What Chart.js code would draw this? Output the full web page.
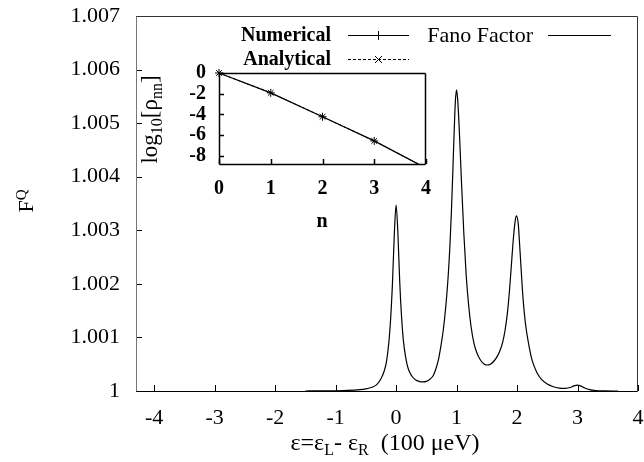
<!DOCTYPE html>
<html>
<head>
<meta charset="utf-8">
<script src="https://cdn.jsdelivr.net/npm/chart.js@4.4.1/dist/chart.umd.min.js"></script>
<style>
  html, body { margin: 0; padding: 0; background: #fff; }
  #wrap { position: relative; width: 644px; height: 462px; }
  #main { position: absolute; left: 0; top: 0; }
  #inset { position: absolute; left: 120px; top: 55px; }
</style>
</head>
<body>
<div id="wrap">
  <canvas id="main" width="644" height="462"></canvas>
  <canvas id="inset" width="320" height="185"></canvas>
</div>
<script>
// --- dati ---
// curva principale: epsilon (100 ueV) e fattore di Fano F^Q
const epsValues = [
  -1.5, -1.2, -1.0, -0.8, -0.6, -0.5, -0.4, -0.32, -0.25, -0.2, -0.16, -0.12, -0.09, -0.06, -0.03,
  0.0, 0.03, 0.06, 0.09, 0.12, 0.16, 0.2, 0.26, 0.32, 0.38, 0.44, 0.5, 0.56, 0.62, 0.66, 0.7,
  0.74, 0.77, 0.8, 0.83, 0.86, 0.89, 0.915, 0.94, 0.96, 0.98, 1.0, 1.02, 1.05, 1.08, 1.12, 1.16, 1.2,
  1.24, 1.29, 1.34, 1.4, 1.46, 1.51, 1.56, 1.62, 1.68, 1.72, 1.76, 1.8, 1.84, 1.87, 1.9, 1.94, 1.97, 1.99,
  2.02, 2.05, 2.08, 2.1, 2.14, 2.19, 2.25, 2.33, 2.4, 2.5, 2.6, 2.7, 2.8, 2.88, 2.94, 3.0,
  3.05, 3.12, 3.2, 3.3, 3.45, 3.67
];
const fanoValues = [
  1.000000, 1.000002, 1.000004, 1.000010, 1.000025, 1.000040, 1.000070, 1.000120, 1.000230, 1.000360, 1.000540, 1.000900, 1.001350, 1.002000, 1.002900,
  1.003470, 1.002950, 1.002050, 1.001400, 1.000950, 1.000620, 1.000420, 1.000280, 1.000210, 1.000180, 1.000170, 1.000180, 1.000220, 1.000300, 1.000420, 1.000580,
  1.000830, 1.001050, 1.001330, 1.001680, 1.002120, 1.002700, 1.003350, 1.004150, 1.004820, 1.005400, 1.005620, 1.005420, 1.004750, 1.003940, 1.002950, 1.002150, 1.001600,
  1.001200, 1.000880, 1.000700, 1.000570, 1.000500, 1.000485, 1.000500, 1.000560, 1.000660, 1.000760, 1.000900, 1.001120, 1.001450, 1.001800, 1.002250, 1.002850, 1.003180, 1.003270,
  1.003120, 1.002600, 1.002050, 1.001720, 1.001250, 1.000890, 1.000570, 1.000340, 1.000220, 1.000130, 1.000080, 1.000055, 1.000050, 1.000065, 1.000095, 1.000110,
  1.000095, 1.000055, 1.000025, 1.000008, 1.000002, 1.000000
];
const xTicks = [-4, -3, -2, -1, 0, 1, 2, 3, 4];
const yTicks = [1, 1.001, 1.002, 1.003, 1.004, 1.005, 1.006, 1.007];

// inserto: log10[rho_nn] contro n
const nValues = [0, 1, 2, 3, 4];
const numericalValues = [0, -1.92, -4.23, -6.57, -9.2];
const analyticalValues = [0, -1.92, -4.23, -6.57, -9.2];
const nTicks = [0, 1, 2, 3, 4];
const logTicks = [0, -2, -4, -6, -8];

const SERIF = '"Liberation Serif", "Times New Roman", serif';

// niente margini extra per le etichette: l'area del grafico la decido io
const noPad = s => { s.paddingLeft = 0; s.paddingRight = 0; s.paddingTop = 0; s.paddingBottom = 0; };

// cornice e tacche interne (stile gnuplot)
const framePlugin = {
  id: 'frame',
  afterDraw(chart, args, o) {
    const { ctx, chartArea: a, scales } = chart;
    ctx.save();
    ctx.lineWidth = o.width;
    ctx.strokeStyle = o.color;
    ctx.beginPath();
    scales.x.ticks.forEach(t => {
      const px = Math.round(scales.x.getPixelForValue(t.value)) + 0.5;
      ctx.moveTo(px, a.bottom);
      ctx.lineTo(px, a.bottom - o.tick);
    });
    scales.y.ticks.forEach(t => {
      const py = Math.round(scales.y.getPixelForValue(t.value)) + 0.5;
      ctx.moveTo(a.left, py);
      ctx.lineTo(a.left + o.tick, py);
    });
    ctx.stroke();
    const L = Math.round(a.left) + 0.5, R = Math.round(a.right) - 0.5;
    const T = Math.round(a.top) + 0.5, B = Math.round(a.bottom) + 0.5;
    const side = (c, x1, y1, x2, y2) => {
      ctx.strokeStyle = c;
      ctx.beginPath(); ctx.moveTo(x1, y1); ctx.lineTo(x2, y2); ctx.stroke();
    };
    side(o.topColor, L, T, R, T);
    side(o.rightColor, R, T, R, B);
    side(o.leftColor, L, T, L, B);
    side(o.bottomColor, L, B, R, B);
    ctx.restore();
  }
};

// scrive segmenti di testo con pedici / apici
function drawRich(ctx, parts, x, y, align) {
  let w = 0;
  parts.forEach(p => { ctx.font = p.font; w += ctx.measureText(p.t).width; });
  let cx = align === 'center' ? x - w / 2 : x;
  ctx.textAlign = 'left';
  ctx.textBaseline = 'alphabetic';
  parts.forEach(p => {
    ctx.font = p.font;
    ctx.fillText(p.t, cx, y + (p.dy || 0));
    cx += ctx.measureText(p.t).width;
  });
}

const mainLabels = {
  id: 'mainLabels',
  afterDraw(chart) {
    const ctx = chart.ctx;
    ctx.save();
    ctx.fillStyle = '#000';
    // titolo asse x
    const big = '24px ' + SERIF, sub = '16px ' + SERIF;
    drawRich(ctx, [
      { t: 'ε=ε', font: big }, { t: 'L', font: sub, dy: 5 },
      { t: '- ε', font: big }, { t: 'R', font: sub, dy: 5 },
      { t: '  (100 μeV)', font: big }
    ], 385, 450, 'center');
    // titolo asse y
    ctx.save();
    ctx.translate(33, 201);
    ctx.rotate(-Math.PI / 2);
    drawRich(ctx, [
      { t: 'F', font: '22px ' + SERIF }, { t: 'Q', font: '15px ' + SERIF, dy: -7 }
    ], 0, 0, 'center');
    ctx.restore();

    // legenda
    ctx.textBaseline = 'middle';
    ctx.textAlign = 'right';
    ctx.font = 'bold 20px ' + SERIF;
    ctx.fillText('Numerical', 331, 36);
    ctx.fillText('Analytical', 331, 60);
    ctx.font = '22px ' + SERIF;
    ctx.fillText('Fano Factor', 533, 36);

    ctx.strokeStyle = '#000';
    ctx.lineWidth = 1;
    ctx.beginPath();
    ctx.moveTo(348, 35.5); ctx.lineTo(409, 35.5);
    ctx.moveTo(378.5, 31); ctx.lineTo(378.5, 40);
    ctx.moveTo(548, 35.5); ctx.lineTo(611, 35.5);
    ctx.stroke();
    ctx.beginPath();
    ctx.setLineDash([3, 2]);
    ctx.moveTo(348, 59.5); ctx.lineTo(409, 59.5);
    ctx.stroke();
    ctx.setLineDash([]);
    ctx.beginPath();
    ctx.moveTo(375, 56); ctx.lineTo(382, 63);
    ctx.moveTo(382, 56); ctx.lineTo(375, 63);
    ctx.stroke();
    ctx.restore();
  }
};

new Chart(document.getElementById('main'), {
  type: 'line',
  data: {
    datasets: [{
      label: 'Fano Factor',
      data: epsValues.map((x, i) => ({ x: x, y: fanoValues[i] })),
      borderColor: '#000',
      borderWidth: 1.2,
      pointRadius: 0,
      cubicInterpolationMode: 'monotone',
      fill: false
    }]
  },
  options: {
    responsive: false,
    animation: false,
    devicePixelRatio: 1,
    layout: { padding: { left: 0, top: 16, right: 6, bottom: 0 } },
    plugins: {
      legend: { display: false },
      tooltip: { enabled: false },
      frame: {
        width: 1, color: '#000', tick: 6,
        topColor: '#333', rightColor: '#333', leftColor: '#777', bottomColor: '#000'
      }
    },
    scales: {
      x: {
        type: 'linear', min: -4.3, max: 4.0,
        afterBuildTicks: s => { s.ticks = xTicks.map(v => ({ value: v })); },
        afterFit: s => { s.height = 71; noPad(s); },
        grid: { display: false, drawTicks: false },
        border: { display: false },
        ticks: { color: '#000', font: { family: SERIF, size: 22 }, padding: 14, maxRotation: 0, autoSkip: false }
      },
      y: {
        type: 'linear', min: 1, max: 1.007,
        afterBuildTicks: s => { s.ticks = yTicks.map(v => ({ value: v })); },
        afterFit: s => { s.width = 136; noPad(s); },
        grid: { display: false, drawTicks: false },
        border: { display: false },
        ticks: {
          color: '#000', font: { family: SERIF, size: 22 }, padding: 16, autoSkip: false,
          callback: v => String(Number(v.toFixed(3)))
        }
      }
    }
  },
  plugins: [framePlugin, mainLabels]
});

// --- inserto ---
const insetLabels = {
  id: 'insetLabels',
  afterDraw(chart) {
    const ctx = chart.ctx;
    ctx.save();
    ctx.fillStyle = '#000';
    ctx.font = 'bold 20px ' + SERIF;
    ctx.textAlign = 'center';
    ctx.textBaseline = 'middle';
    ctx.fillText('n', 202, 167);
    ctx.translate(37, 64.5);
    ctx.rotate(-Math.PI / 2);
    const f = '23px ' + SERIF, s = '16px ' + SERIF;
    drawRich(ctx, [
      { t: 'log', font: f }, { t: '10', font: s, dy: 5 },
      { t: '[ρ', font: f }, { t: 'nn', font: s, dy: 5 }, { t: ']', font: f }
    ], 0, 0, 'center');
    ctx.restore();
  }
};

new Chart(document.getElementById('inset'), {
  type: 'line',
  data: {
    datasets: [{
      label: 'Numerical',
      data: nValues.map((n, i) => ({ x: n, y: numericalValues[i] })),
      borderColor: '#000',
      borderWidth: 1.3,
      pointStyle: 'cross',
      pointRadius: 4,
      pointBorderWidth: 1,
      pointBorderColor: '#000',
      clip: { left: 8, top: 8, right: 0, bottom: 0 },
      fill: false
    }, {
      label: 'Analytical',
      data: nValues.map((n, i) => ({ x: n, y: analyticalValues[i] })),
      borderColor: '#000',
      borderWidth: 1,
      borderDash: [3, 2],
      pointStyle: 'crossRot',
      pointRadius: 4,
      pointBorderWidth: 1,
      pointBorderColor: '#000',
      clip: { left: 8, top: 8, right: 0, bottom: 0 },
      fill: false
    }]
  },
  options: {
    responsive: false,
    animation: false,
    devicePixelRatio: 1,
    layout: { padding: { left: 0, top: 18, right: 14, bottom: 0 } },
    plugins: {
      legend: { display: false },
      tooltip: { enabled: false },
      frame: {
        width: 1.5, color: '#000', tick: 5,
        topColor: '#000', rightColor: '#000', leftColor: '#000', bottomColor: '#000'
      }
    },
    scales: {
      x: {
        type: 'linear', min: 0, max: 4,
        afterBuildTicks: s => { s.ticks = nTicks.map(v => ({ value: v })); },
        afterFit: s => { s.height = 76; noPad(s); },
        grid: { display: false, drawTicks: false },
        border: { display: false },
        ticks: { color: '#000', font: { family: SERIF, size: 20, weight: 'bold' }, padding: 13, maxRotation: 0, autoSkip: false }
      },
      y: {
        type: 'linear', min: -8.8, max: 0,
        afterBuildTicks: s => { s.ticks = logTicks.map(v => ({ value: v })); },
        afterFit: s => { s.width = 99; noPad(s); },
        grid: { display: false, drawTicks: false },
        border: { display: false },
        ticks: { color: '#000', font: { family: SERIF, size: 20, weight: 'bold' }, padding: 13, autoSkip: false }
      }
    }
  },
  plugins: [framePlugin, insetLabels]
});
</script>
</body>
</html>
